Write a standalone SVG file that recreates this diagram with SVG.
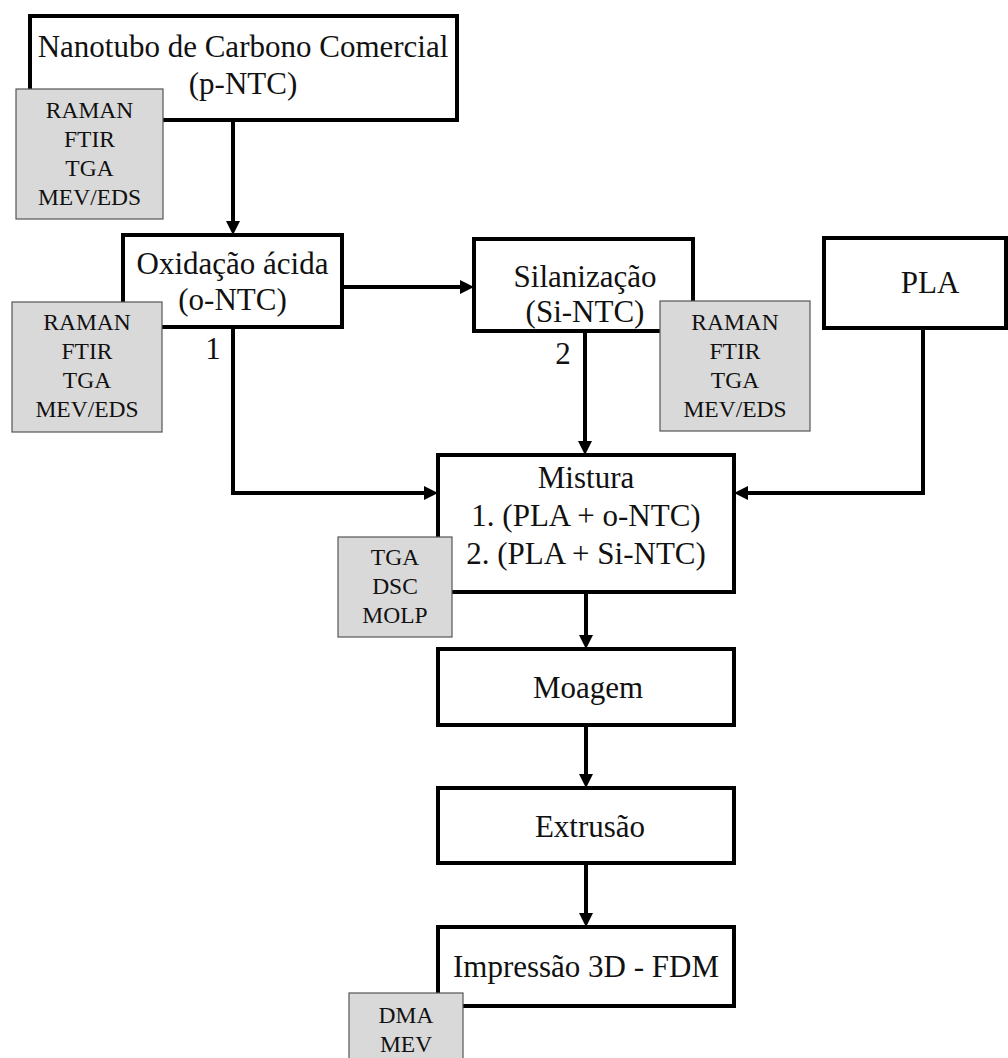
<svg xmlns="http://www.w3.org/2000/svg" width="1008" height="1058" viewBox="0 0 1008 1058">
<defs>
<marker id="ah" markerUnits="userSpaceOnUse" viewBox="0 0 14 14" markerWidth="14" markerHeight="14" refX="6" refY="7" orient="auto">
<path d="M0,0 L14,7 L0,14 z" fill="#000"/>
</marker>
<style>
.box{fill:#fff;stroke:#000;stroke-width:4}
.gbox{fill:#d9d9d9;stroke:#555;stroke-width:1.2}
.t{font-family:"Liberation Serif","Times New Roman",serif;font-size:31px;fill:#111;text-anchor:middle}
.g{font-family:"Liberation Serif","Times New Roman",serif;font-size:23.5px;fill:#111;text-anchor:middle}
.c{fill:none;stroke:#000;stroke-width:4}
</style>
</defs>
<rect width="1008" height="1058" fill="#fff"/>

<g id="connectors">
<path class="c" d="M233,120 V227" marker-end="url(#ah)"/>
<path class="c" d="M342,287 H466" marker-end="url(#ah)"/>
<path class="c" d="M233,327 V493 H430" marker-end="url(#ah)"/>
<path class="c" d="M585,331 V447" marker-end="url(#ah)"/>
<path class="c" d="M923,328 V493 H742" marker-end="url(#ah)"/>
<path class="c" d="M586,592 V641" marker-end="url(#ah)"/>
<path class="c" d="M586,725 V780" marker-end="url(#ah)"/>
<path class="c" d="M586,863 V919" marker-end="url(#ah)"/>
</g>

<g id="n-pntc">
<rect class="box" x="30" y="16" width="427" height="104"/>
<text class="t" x="243" y="57">Nanotubo de Carbono Comercial</text>
<text class="t" x="243" y="94">(p-NTC)</text>
</g>
<g id="a-pntc">
<rect class="gbox" x="16" y="89" width="147" height="130"/>
<text class="g" x="89.5" y="118">RAMAN</text>
<text class="g" x="89.5" y="147">FTIR</text>
<text class="g" x="89.5" y="176">TGA</text>
<text class="g" x="89.5" y="205">MEV/EDS</text>
</g>

<g id="n-ontc">
<rect class="box" x="123" y="235" width="219" height="92"/>
<text class="t" x="232.5" y="274">Oxidação ácida</text>
<text class="t" x="232.5" y="310">(o-NTC)</text>
</g>
<g id="a-ontc">
<rect class="gbox" x="12" y="302" width="150" height="130"/>
<text class="g" x="87" y="330">RAMAN</text>
<text class="g" x="87" y="359">FTIR</text>
<text class="g" x="87" y="388">TGA</text>
<text class="g" x="87" y="417">MEV/EDS</text>
</g>
<text id="lbl1" class="t" x="213" y="359">1</text>

<g id="n-sintc">
<rect class="box" x="474" y="239" width="219" height="92"/>
<text class="t" x="585" y="287">Silanização</text>
<text class="t" x="585" y="322">(Si-NTC)</text>
</g>
<g id="a-sintc">
<rect class="gbox" x="660" y="301" width="150" height="130"/>
<text class="g" x="735" y="330">RAMAN</text>
<text class="g" x="735" y="359">FTIR</text>
<text class="g" x="735" y="388">TGA</text>
<text class="g" x="735" y="417">MEV/EDS</text>
</g>
<text id="lbl2" class="t" x="563" y="364">2</text>

<g id="n-pla">
<rect class="box" x="824" y="238" width="182" height="90"/>
<text class="t" x="930" y="293">PLA</text>
</g>

<g id="n-mistura">
<rect class="box" x="438" y="455" width="296" height="137"/>
<text class="t" x="586" y="488">Mistura</text>
<text class="t" x="586" y="526">1. (PLA + o-NTC)</text>
<text class="t" x="586" y="564">2. (PLA + Si-NTC)</text>
</g>
<g id="a-mistura">
<rect class="gbox" x="338" y="537" width="114" height="100"/>
<text class="g" x="395" y="565">TGA</text>
<text class="g" x="395" y="594">DSC</text>
<text class="g" x="395" y="623">MOLP</text>
</g>

<g id="n-moagem">
<rect class="box" x="438" y="649" width="296" height="76"/>
<text class="t" x="588" y="698">Moagem</text>
</g>

<g id="n-extrusao">
<rect class="box" x="438" y="788" width="296" height="75"/>
<text class="t" x="590" y="837">Extrusão</text>
</g>

<g id="n-impressao">
<rect class="box" x="438" y="927" width="296" height="79"/>
<text class="t" x="586" y="977">Impressão 3D - FDM</text>
</g>
<g id="a-impressao">
<rect class="gbox" x="349" y="993" width="114" height="80"/>
<text class="g" x="406" y="1023">DMA</text>
<text class="g" x="406" y="1052">MEV</text>
</g>
</svg>
